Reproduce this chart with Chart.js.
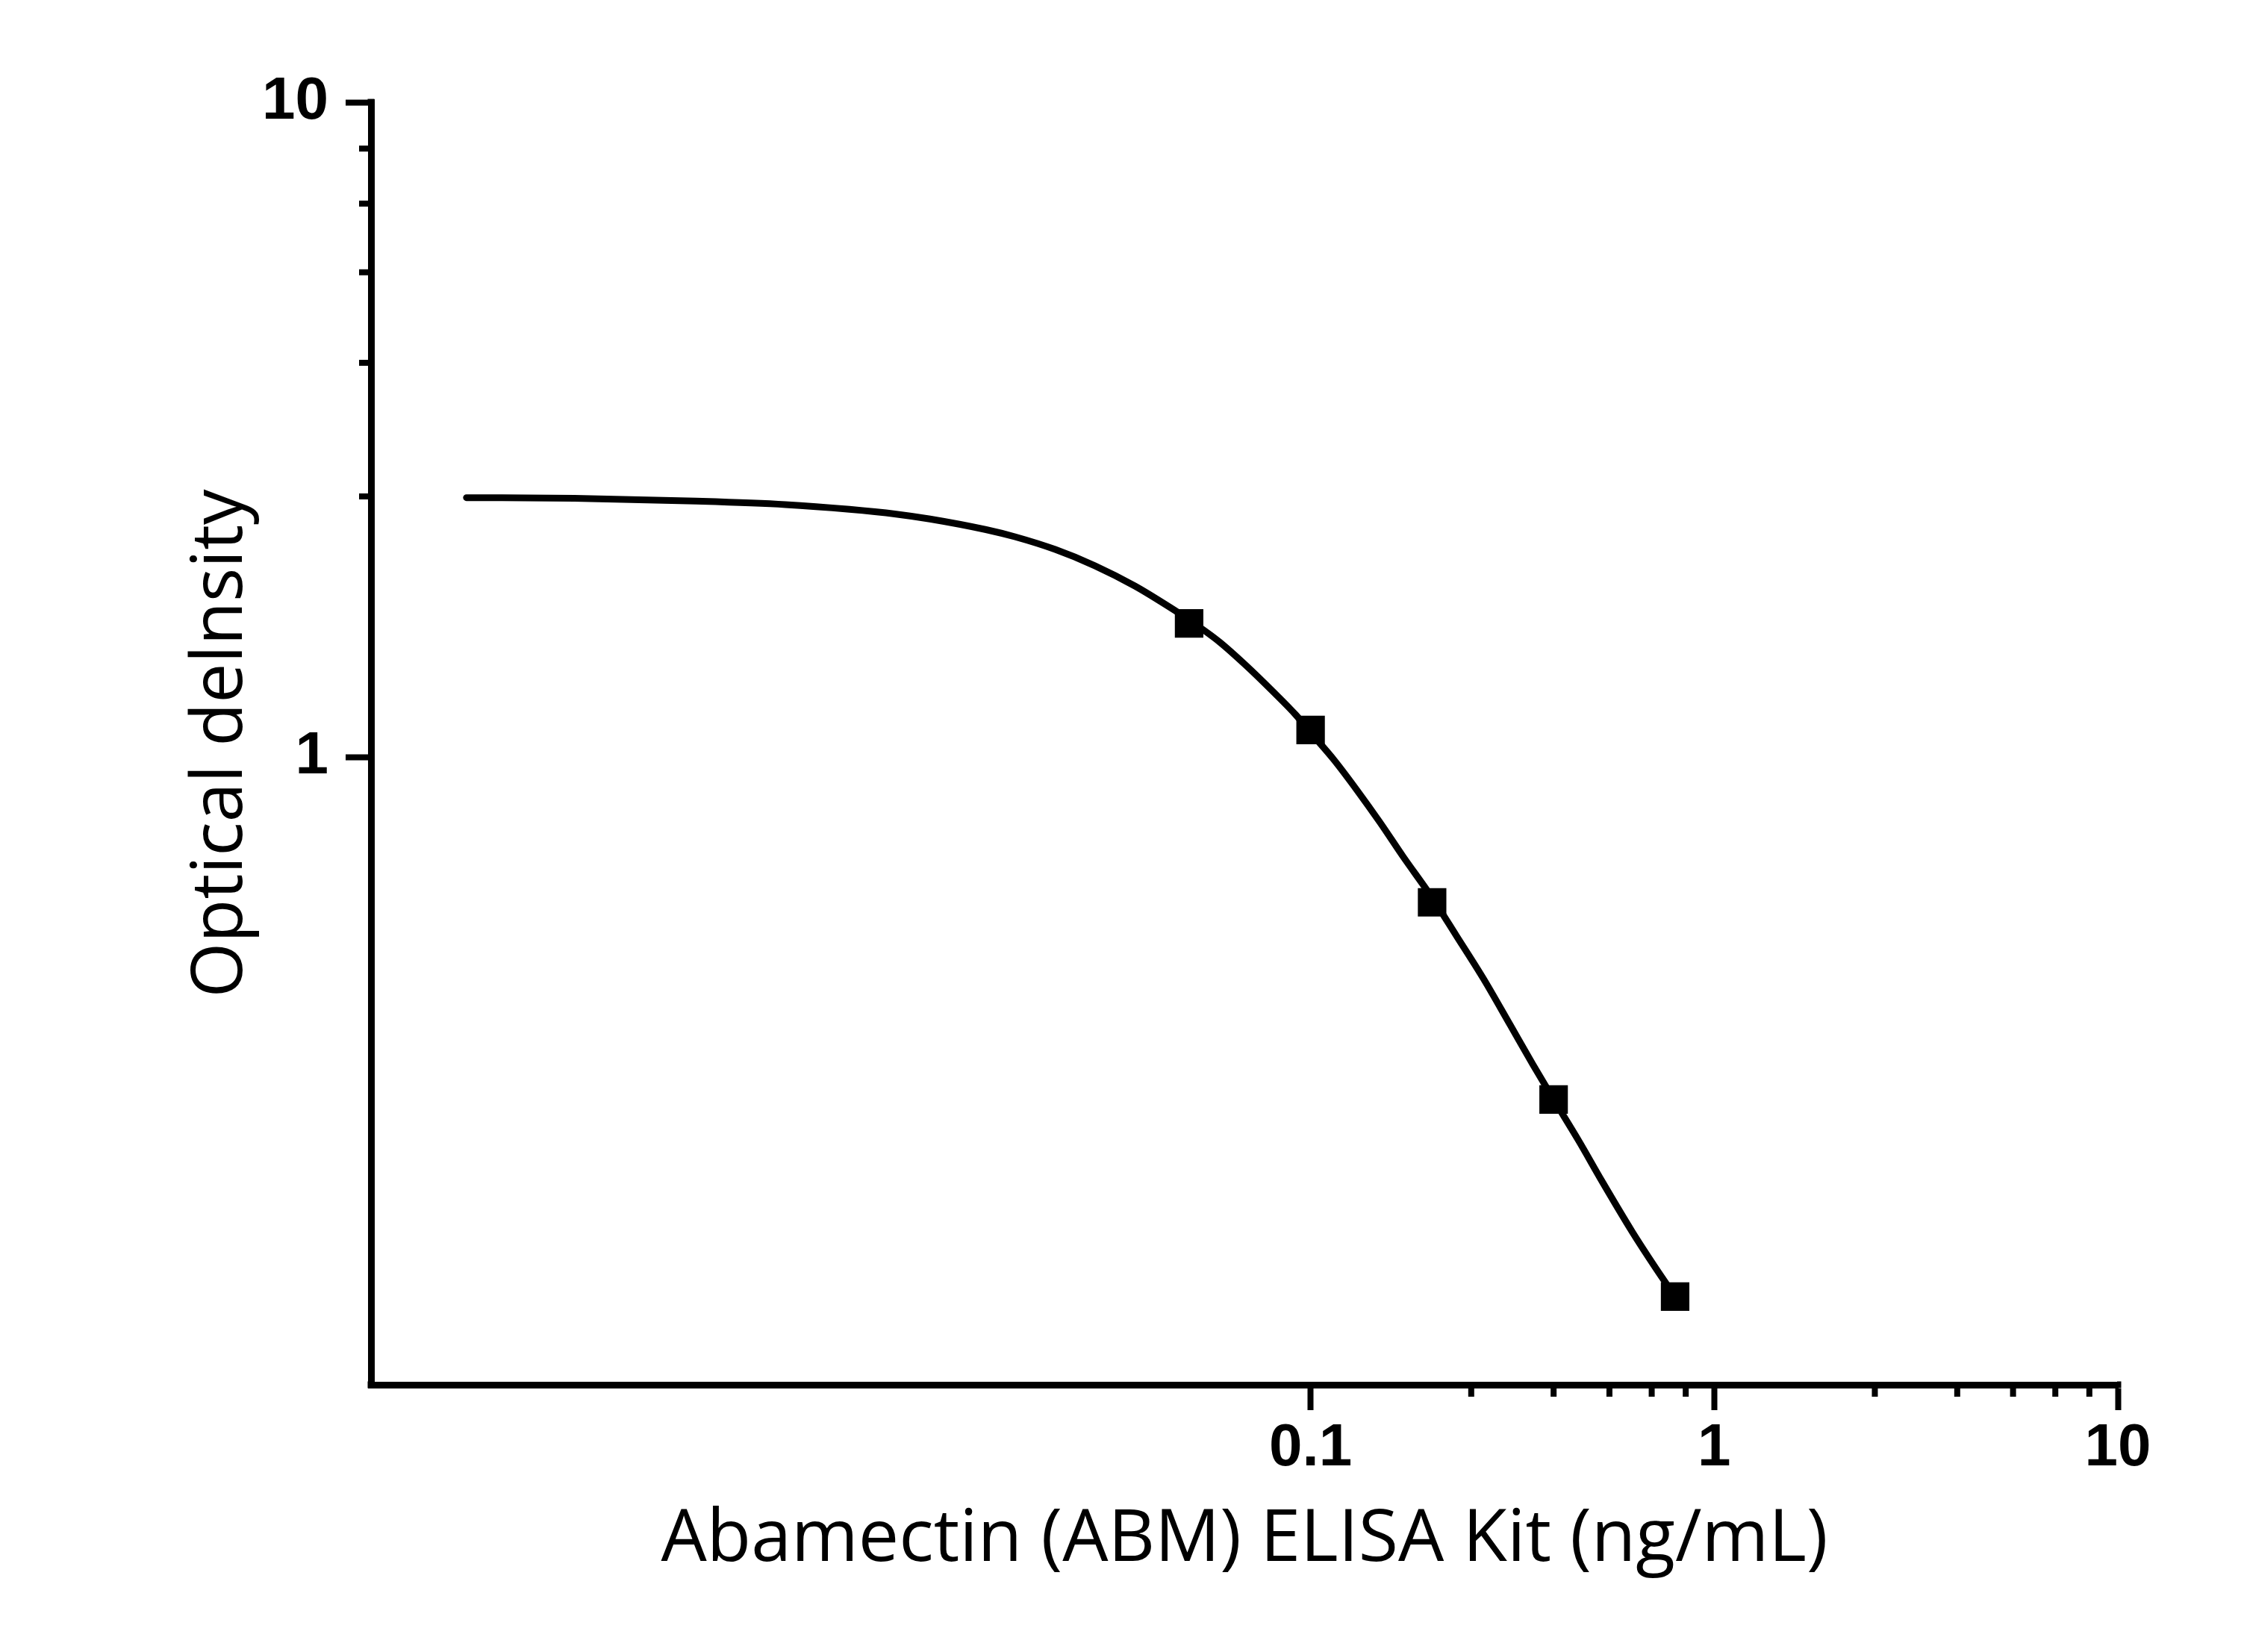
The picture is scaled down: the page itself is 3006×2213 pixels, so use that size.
<!DOCTYPE html>
<html>
<head>
<meta charset="utf-8">
<title>Abamectin (ABM) ELISA Kit</title>
<script src="https://cdn.jsdelivr.net/npm/chart.js@4.4.1/dist/chart.umd.min.js"></script>
<style>
    html, body { margin: 0; padding: 0; background: #ffffff; }
    canvas { display: block; }
</style>
</head>
<body>
<canvas id="curveChart" width="3006" height="2213"></canvas>
<script>
// standards (measured points)
const stdConc = [0.05, 0.1, 0.2, 0.4, 0.8];
const stdOD = [1.60, 1.10, 0.60, 0.30, 0.15];

// fitted curve
const fitConc = [0.00081, 0.0015, 0.003, 0.005, 0.0072, 0.0094, 0.0114, 0.0157, 0.0185, 0.0233,
    0.0292, 0.0367, 0.0447, 0.05, 0.0594, 0.0692, 0.0806, 0.0919, 0.1, 0.1143,
    0.1303, 0.1485, 0.1694, 0.2, 0.2299, 0.2679, 0.3121, 0.3556, 0.4, 0.4623,
    0.5272, 0.6276, 0.7153, 0.8];
const fitOD = [2.49, 2.485, 2.46, 2.43, 2.39, 2.35, 2.31, 2.225, 2.17, 2.075,
    1.96, 1.825, 1.695, 1.62, 1.50, 1.38, 1.26, 1.16, 1.09, 0.99,
    0.89, 0.795, 0.705, 0.61, 0.533, 0.459, 0.390, 0.339, 0.30, 0.259,
    0.225, 0.188, 0.166, 0.15];

// axis ticks
const xMajorTicks = [0.1, 1, 10];
const xMinorTicks = [0.25, 0.4, 0.55, 0.7, 0.85, 2.5, 4, 5.5, 7, 8.5];
const yMajorTicks = [1, 10];
const yMinorTicks = [2.5, 4, 5.5, 7, 8.5];

const xTitle = 'Abamectin (ABM) ELISA Kit (ng/mL)';
const yTitle = 'Optical delnsity';

const AXIS_W = 9;
const MAJOR_LEN = 34;
const MINOR_LEN = 16;

// draws the short minor ticks and squares off the axis ends
const minorTicksPlugin = {
    id: 'minorTicks',
    afterDraw(chart) {
        const ctx = chart.ctx;
        const area = chart.chartArea;
        const xs = chart.scales.x;
        const ys = chart.scales.y;
        ctx.save();
        ctx.strokeStyle = '#000';
        ctx.lineWidth = 8;
        ctx.lineCap = 'butt';
        ctx.beginPath();
        xMinorTicks.forEach(v => {
            const px = xs.getPixelForValue(v);
            ctx.moveTo(px, area.bottom);
            ctx.lineTo(px, area.bottom + MINOR_LEN);
        });
        yMinorTicks.forEach(v => {
            const py = ys.getPixelForValue(v);
            ctx.moveTo(area.left, py);
            ctx.lineTo(area.left - MINOR_LEN, py);
        });
        ctx.stroke();
        const h = AXIS_W / 2;
        ctx.fillStyle = '#000';
        ctx.fillRect(area.left - h, area.bottom - h, AXIS_W, AXIS_W);
        ctx.fillRect(area.left - h, area.top - h, AXIS_W, h + 1);
        ctx.fillRect(area.right - 1, area.bottom - h, h + 1, AXIS_W);
        ctx.restore();
    }
};

const tickFont = { family: '"Liberation Sans", Arial, sans-serif', size: 80, weight: 'bold' };
const titleFont = { family: '"Open Sans", "Noto Sans", sans-serif', size: 97 };

new Chart(document.getElementById('curveChart'), {
    type: 'line',
    data: {
        datasets: [
            {
                label: 'Standards',
                data: stdConc.map((c, i) => ({ x: c, y: stdOD[i] })),
                showLine: false,
                pointStyle: 'rect',
                pointRadius: 27,
                pointBorderWidth: 0,
                pointBackgroundColor: '#000',
                pointBorderColor: '#000'
            },
            {
                label: 'Fit',
                data: fitConc.map((c, i) => ({ x: c, y: fitOD[i] })),
                borderColor: '#000',
                borderWidth: 9,
                borderCapStyle: 'round',
                borderJoinStyle: 'round',
                cubicInterpolationMode: 'monotone',
                pointRadius: 0,
                fill: false
            }
        ]
    },
    options: {
        responsive: false,
        devicePixelRatio: 1,
        animation: false,
        layout: { padding: { left: 0, top: 137, right: 169, bottom: 0 } },
        plugins: {
            legend: { display: false },
            tooltip: { enabled: false }
        },
        scales: {
            x: {
                type: 'logarithmic',
                position: 'bottom',
                min: 0.00047,
                max: 10,
                afterBuildTicks: scale => { scale.ticks = xMajorTicks.map(v => ({ value: v, major: true })); },
                afterFit: scale => { scale.height = 2213 - 1855; },
                ticks: {
                    autoSkip: false,
                    maxRotation: 0,
                    padding: 4,
                    color: '#000',
                    font: tickFont,
                    callback: v => String(v)
                },
                grid: {
                    display: true,
                    drawOnChartArea: false,
                    drawTicks: true,
                    tickLength: MAJOR_LEN,
                    tickWidth: 8,
                    tickColor: '#000'
                },
                border: { display: true, color: '#000', width: AXIS_W },
                title: {
                    display: true,
                    text: xTitle,
                    color: '#000',
                    font: titleFont,
                    padding: { top: 0, bottom: 91 }
                }
            },
            y: {
                type: 'logarithmic',
                position: 'left',
                min: 0.11,
                max: 10,
                afterBuildTicks: scale => { scale.ticks = yMajorTicks.map(v => ({ value: v, major: true })); },
                afterFit: scale => { scale.width = 497; },
                ticks: {
                    autoSkip: false,
                    padding: 23,
                    color: '#000',
                    font: tickFont,
                    callback: v => String(v)
                },
                grid: {
                    display: true,
                    drawOnChartArea: false,
                    drawTicks: true,
                    tickLength: MAJOR_LEN,
                    tickWidth: 8,
                    tickColor: '#000'
                },
                border: { display: true, color: '#000', width: AXIS_W },
                title: {
                    display: true,
                    text: yTitle,
                    color: '#000',
                    font: { family: titleFont.family, size: 95 },
                    padding: { top: 240, bottom: 0 }
                }
            }
        }
    },
    plugins: [minorTicksPlugin]
});
</script>
</body>
</html>
